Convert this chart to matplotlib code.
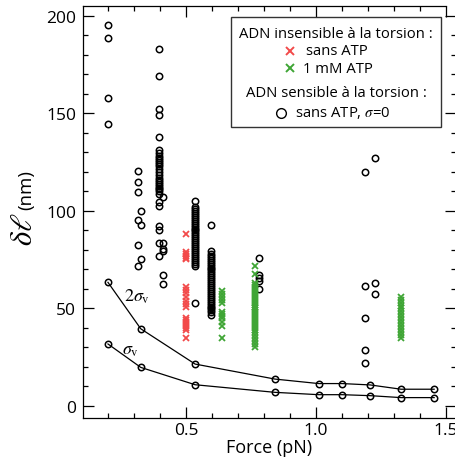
import matplotlib
matplotlib.use('Agg')
import matplotlib.pyplot as plt
from matplotlib.patches import Rectangle
from matplotlib.ticker import MultipleLocator

plt.rcParams['font.family'] = ['Open Sans', 'DejaVu Sans']
plt.rcParams['mathtext.fontset'] = 'stix'

# curves sigma_v and 2 sigma_v
curve_force = [0.2, 0.326, 0.535, 0.842, 1.01, 1.1, 1.208, 1.327, 1.454]
two_sigma = [63.4, 39.6, 21.5, 13.8, 11.5, 11.5, 10.8, 8.6, 8.6]
one_sigma = [31.8, 19.8, 10.9, 7.0, 5.8, 5.8, 5.3, 4.3, 4.3]

# torsion sensitive DNA, no ATP (open circles), one list per force column
circ_forces = [0.2, 0.317, 0.326, 0.396, 0.413, 0.535, 0.595, 0.781, 1.188, 1.225]
circ_02 = [195.5, 188.9, 158, 144.6]
circ_032 = [120.4, 115, 109.6, 95.4, 82.7, 71.8]
circ_033 = [100.2, 92.8, 75.4]
circ_040 = [183, 169.2, 152.3, 149.4, 137.8, 131, 129.5, 128, 127, 126, 125, 124,
            123, 121.5, 120, 118.5, 117, 116, 115, 114, 113, 112, 111, 110, 108.7,
            104.8, 102.4, 92.2, 90.4, 83.4, 77.1]
circ_041 = [107, 83.4, 80.5, 79.3, 67.3, 62.6]
circ_054 = [105.3, 102, 101, 100, 99, 98, 97, 96, 95, 94, 93, 92, 91, 90, 89, 88,
            87, 86, 85, 84, 83, 82, 81, 80, 79, 78, 77, 76, 75, 74, 73, 72, 52.7]
circ_060 = [93, 79.5, 78, 77, 76, 75, 74, 73, 72, 71, 70, 69, 68, 67, 66, 65, 64,
            63, 62, 61, 60, 59, 58, 57, 56, 55, 54, 53, 52, 51, 50, 49, 48, 46.5]
circ_078 = [75.7, 67.2, 65.5, 64.3, 60]
circ_119 = [119.8, 61.7, 45, 28.7, 22]
circ_122 = [127.4, 63, 57.4]
circ_cols = [circ_02, circ_032, circ_033, circ_040, circ_041, circ_054, circ_060,
             circ_078, circ_119, circ_122]

# torsion insensitive DNA, no ATP (red crosses)
red_force = 0.5
red_dl = [88, 79, 78, 77, 76, 75.5, 61, 59.5, 58, 56, 54, 52.5, 51, 45, 44, 43, 42,
          41, 40, 39, 35]

# torsion insensitive DNA, 1 mM ATP (green crosses)
green_forces = [0.638, 0.765, 1.327]
green_064 = [59, 57.5, 56, 54.5, 53, 48, 47, 46, 45, 43, 41, 35]
green_077 = [72, 67.7, 63, 62, 61, 60, 59, 58, 57, 56, 55, 54, 53, 52, 51, 50, 49,
             48, 47, 46, 45, 44, 43, 42, 41, 40, 39, 38, 36.5, 35, 33.5, 32, 30.5]
green_133 = [56, 54.5, 53, 51.5, 50, 48.5, 47, 45.5, 44, 42.5, 41, 39.5, 38, 36.5, 35]
green_cols = [green_064, green_077, green_133]

red = '#f24a4a'
green = '#3fa535'

fig = plt.figure(figsize=(4.56, 4.64), dpi=100)
ax = fig.add_axes([0.182, 0.097, 0.818, 0.888])

circ_style = dict(marker='o', ms=4.6, mfc='none', mec='black', mew=1.1, ls='none')
cross_style = dict(marker='x', ms=4.8, mew=1.3, ls='none')

for f, col in zip(circ_forces, circ_cols):
    ax.plot([f] * len(col), col, **circ_style)
ax.plot([red_force] * len(red_dl), red_dl, color=red, **cross_style)
for f, col in zip(green_forces, green_cols):
    ax.plot([f] * len(col), col, color=green, **cross_style)

ax.plot(curve_force, two_sigma, color='black', lw=0.9, marker='o', ms=4.6,
        mfc='none', mec='black', mew=1.1)
ax.plot(curve_force, one_sigma, color='black', lw=0.9, marker='o', ms=4.6,
        mfc='none', mec='black', mew=1.1)
ax.text(0.262, 56.4, r'$2\sigma_{\mathrm{v}}$', fontsize=13, va='center', ha='left')
ax.text(0.254, 29.2, r'$\sigma_{\mathrm{v}}$', fontsize=13, va='center', ha='left')

ax.set_xlim(0.104, 1.538)
ax.set_ylim(-6.15, 205.1)
ax.xaxis.set_major_locator(MultipleLocator(0.5))
ax.xaxis.set_minor_locator(MultipleLocator(0.1))
ax.yaxis.set_major_locator(MultipleLocator(50))
ax.yaxis.set_minor_locator(MultipleLocator(10))
ax.xaxis.set_major_formatter(plt.FuncFormatter(lambda v, p: f'{v:.1f}'))
ax.tick_params(which='both', direction='in', top=True, right=True, width=0.9,
               labelsize=12.5)
ax.tick_params(axis='x', pad=3)
ax.tick_params(axis='y', pad=5)
ax.tick_params(which='major', length=8)
ax.tick_params(which='minor', length=3.5)
ax.spines['right'].set_color('none')
ax.spines['top'].set_bounds(0.104, 1.5)
for s in ['left', 'bottom', 'top']:
    ax.spines[s].set_linewidth(0.9)

ax.set_xlabel('Force (pN)', fontsize=13, labelpad=0)
fig.text(0.052, 0.505, r'$\delta\ell$', fontsize=22, rotation=90, ha='center', va='center')
fig.text(0.058, 0.59, '(nm)', fontsize=13.5, rotation=90, ha='center', va='center')

# legend box drawn by hand
ax.add_patch(Rectangle((0.396, 0.7056), 0.564, 0.267, transform=ax.transAxes,
                       fill=False, ec='#333333', lw=1.0, zorder=5))
lfs = 10.7
ax.text(0.678, 0.932, 'ADN insensible à la torsion :', transform=ax.transAxes,
        fontsize=lfs, ha='center', va='center')
ax.plot([0.555], [0.891], transform=ax.transAxes, color=red, marker='x', ms=6, mew=1.4)
ax.text(0.597, 0.891, 'sans ATP', transform=ax.transAxes, fontsize=lfs, va='center')
ax.plot([0.555], [0.849], transform=ax.transAxes, color=green, marker='x', ms=6, mew=1.4)
ax.text(0.590, 0.849, '1 mM ATP', transform=ax.transAxes, fontsize=lfs, va='center')
ax.text(0.680, 0.790, 'ADN sensible à la torsion :', transform=ax.transAxes,
        fontsize=lfs, ha='center', va='center')
ax.plot([0.530], [0.740], transform=ax.transAxes, marker='o', ms=7, mfc='none',
        mec='black', mew=1.0)
ax.text(0.568, 0.742, r'sans ATP, $\sigma$=0', transform=ax.transAxes, fontsize=lfs,
        va='center')

fig.savefig('out.png', dpi=100)
